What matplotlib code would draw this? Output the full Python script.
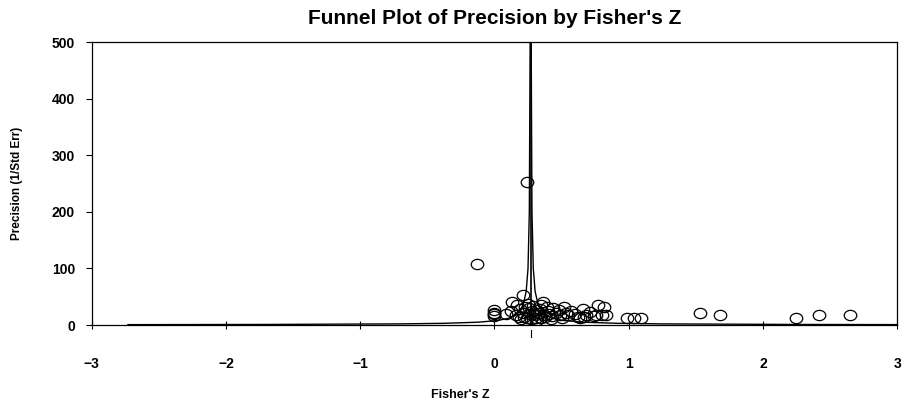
import numpy as np
import matplotlib.pyplot as plt
from matplotlib.path import Path
from matplotlib.transforms import Affine2D

# study points (Fisher's Z, precision)
fisher_z = [-0.13, 0.24, 0.21,
            0.0, 0.0, 0.0, 0.0,
            0.13, 0.09, 0.12,
            0.17, 0.19, 0.21, 0.16, 0.22, 0.25, 0.26, 0.28, 0.29, 0.30,
            0.31, 0.33, 0.34, 0.35, 0.36, 0.37, 0.38, 0.40, 0.41, 0.43,
            0.44, 0.46, 0.48, 0.49, 0.24, 0.27, 0.32, 0.20, 0.18, 0.23,
            0.29, 0.26, 0.31, 0.35, 0.39, 0.42,
            0.52, 0.53, 0.55, 0.57, 0.60, 0.62, 0.66, 0.68, 0.71, 0.74,
            0.77, 0.80, 0.82, 0.64, 0.50, 0.76, 0.83, 0.67,
            0.99, 1.04, 1.09,
            1.53, 1.68, 2.25, 2.42, 2.65]
precision = [107, 252, 53,
             27, 22, 19, 16,
             41, 20, 24,
             35, 28, 22, 18, 15, 38, 30, 25, 20, 17,
             13, 22, 28, 36, 40, 18, 14, 25, 20, 16,
             30, 22, 27, 18, 12, 10, 9, 10, 14, 32,
             34, 19, 26, 12, 32, 10,
             32, 22, 17, 25, 20, 15, 28, 18, 23, 16,
             35, 18, 32, 12, 12, 18, 18, 14,
             13, 13, 12,
             21, 18, 12, 18, 17]

# pooled estimate and funnel limits
z_pooled = 0.27
funnel_prec = [0.65, 1, 2, 3, 5, 8, 12, 20, 35, 60, 100, 200, 500]
funnel_left = [-2.73, -1.69, -0.71, -0.38, -0.12, 0.025, 0.107, 0.172, 0.214, 0.237, 0.2504, 0.2602, 0.2661]
funnel_right_prec = [0.72, 1, 2, 3, 5, 8, 12, 20, 35, 60, 100, 200, 500]
funnel_right = [3.0, 2.23, 1.25, 0.92, 0.66, 0.515, 0.433, 0.368, 0.326, 0.303, 0.2896, 0.2798, 0.2739]

xticks = [-3, -2, -1, 0, 1, 2, 3]
yticks = [0, 100, 200, 300, 400, 500]


def main():
    plt.rcParams['font.family'] = ['Liberation Sans', 'DejaVu Sans']
    plt.rcParams['font.weight'] = 'bold'

    fig = plt.figure(figsize=(9.08, 4.04), dpi=100)
    ax = fig.add_axes([0.101, 0.1955, 0.887, 0.7005])

    # slightly flattened circle, like the original
    ellipse = Path.unit_circle().transformed(Affine2D().scale(1.0, 0.82))

    ax.plot(funnel_left, funnel_prec, color='black', lw=1.0)
    ax.plot(funnel_right, funnel_right_prec, color='black', lw=1.0)
    ax.plot([z_pooled, z_pooled], [0, 500], color='black', lw=1.2)
    ax.plot([z_pooled, z_pooled], [-8, -22], color='black', lw=0.8, clip_on=False)

    ax.plot(fisher_z, precision, linestyle='none', marker=ellipse, markersize=9,
            markerfacecolor='none', markeredgecolor='black', markeredgewidth=0.9)

    ax.set_xlim(-3, 3)
    ax.set_ylim(0, 500)
    ax.set_xticks(xticks)
    ax.set_yticks(yticks)
    ax.tick_params(axis='x', direction='inout', length=6, width=0.8, labelsize=10, pad=20)
    ax.tick_params(axis='y', direction='out', length=4, width=0.8, labelsize=10, pad=8)
    for lab in ax.get_xticklabels() + ax.get_yticklabels():
        lab.set_fontweight('bold')
    for s in ax.spines.values():
        s.set_linewidth(0.9)

    ax.set_title("Funnel Plot of Precision by Fisher's Z", fontsize=15, fontweight='bold', pad=13)
    ax.set_xlabel("Fisher's Z", fontsize=9, fontweight='bold')
    ax.xaxis.set_label_coords(0.458, -0.225)
    ax.set_ylabel("Precision (1/Std Err)", fontsize=8.5, fontweight='bold')
    ax.yaxis.set_label_coords(-0.085, 0.5)

    plt.savefig("out.png", dpi=100)


if __name__ == '__main__':
    main()
